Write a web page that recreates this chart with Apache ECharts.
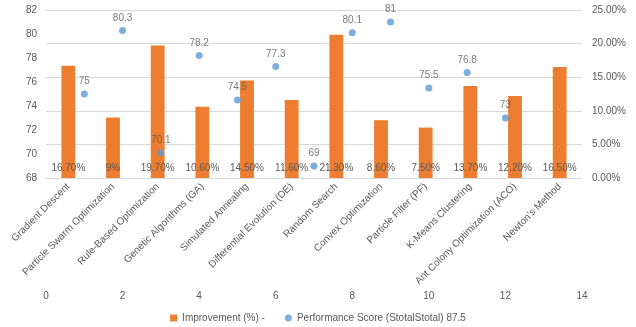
<!DOCTYPE html>
<html>
<head>
<meta charset="utf-8">
<script src="https://cdn.jsdelivr.net/npm/echarts@6/dist/echarts.min.js"></script>
<style>
  html, body { margin: 0; padding: 0; background: #fff; }
  #chart { width: 636px; height: 327px; }
</style>
</head>
<body>
<div id="chart"></div>
<script>
// Optimization methods and their results
const categories = [
  'Gradient Descent', 'Particle Swarm Optimization', 'Rule-Based Optimization',
  'Genetic Algorithms (GA)', 'Simulated Annealing', 'Differential Evolution (DE)',
  'Random Search', 'Convex Optimization', 'Particle Filter (PF)',
  'K-Means Clustering', 'Ant Colony Optimization (ACO)', 'Newton\u2019s Method'
];
// Improvement in percent (bars, right axis)
const improvement = [16.7, 9, 19.7, 10.6, 14.5, 11.6, 21.3, 8.6, 7.5, 13.7, 12.2, 16.5];
// Performance score (points, left axis), placed at x = 1..12
const scoreX = [1, 2, 3, 4, 5, 6, 7, 8, 9, 10, 11, 12];
const score = [75, 80.3, 70.1, 78.2, 74.5, 77.3, 69, 80.1, 81, 75.5, 76.8, 73];

const barName = 'Improvement (%) -';
const scoreName = 'Performance Score (StotalStotal) 87.5';

const FONT = '"Liberation Sans", Arial, sans-serif';
const FS = 10;
const TEXT = '#595959';

const pct = v => (Number.isInteger(v) ? v + '%' : v.toFixed(2) + '%');

const chart = echarts.init(document.getElementById('chart'), null, { renderer: 'canvas' });
chart.setOption({
  animation: false,
  textStyle: { fontFamily: FONT, color: TEXT },
  grid: { left: 46, right: 54, top: 10, bottom: 149, containLabel: false },
  legend: {
    bottom: 4,
    left: 'center',
    padding: 0,
    itemWidth: 7,
    itemHeight: 7,
    itemGap: 20,
    textStyle: { fontFamily: FONT, fontSize: FS, color: TEXT },
    data: [
      { name: barName, icon: 'rect' },
      { name: scoreName, icon: 'circle' }
    ]
  },
  xAxis: [
    {
      type: 'category',
      data: categories,
      position: 'bottom',
      axisLine: { show: false },
      axisTick: { show: false },
      axisLabel: {
        rotate: 45, margin: 7, interval: 0,
        fontFamily: FONT, fontSize: FS, color: TEXT
      }
    },
    {
      type: 'value',
      min: 0, max: 14, interval: 2,
      position: 'bottom',
      offset: 105,
      axisLine: { show: false },
      axisTick: { show: false },
      splitLine: { show: false },
      axisLabel: { fontFamily: FONT, fontSize: FS, color: TEXT }
    }
  ],
  yAxis: [
    {
      type: 'value',
      min: 68, max: 82, interval: 2,
      position: 'left',
      axisLine: { show: false },
      axisTick: { show: false },
      splitLine: { show: false },
      axisLabel: { margin: 9, fontFamily: FONT, fontSize: FS, color: TEXT }
    },
    {
      type: 'value',
      min: 0, max: 25, interval: 5,
      position: 'right',
      axisLine: { show: false },
      axisTick: { show: false },
      splitLine: { show: true, lineStyle: { color: '#d9d9d9', width: 1 } },
      axisLabel: {
        margin: 10, fontFamily: FONT, fontSize: FS, color: TEXT,
        formatter: v => v.toFixed(2) + '%'
      }
    }
  ],
  series: [
    {
      name: barName,
      type: 'bar',
      xAxisIndex: 0,
      yAxisIndex: 1,
      data: improvement,
      barWidth: '31%',
      itemStyle: { color: '#ed7d31' },
      label: {
        show: true,
        position: 'insideBottom',
        distance: 5,
        fontFamily: FONT,
        fontSize: FS,
        color: TEXT,
        formatter: p => pct(p.value)
      },
      z: 2
    },
    {
      name: scoreName,
      type: 'scatter',
      xAxisIndex: 1,
      yAxisIndex: 0,
      data: scoreX.map((x, i) => [x, score[i]]),
      symbol: 'circle',
      symbolSize: 7,
      itemStyle: { color: '#5b9bd5' },
      label: {
        show: true,
        position: 'top',
        distance: 4,
        fontFamily: FONT,
        fontSize: FS,
        color: TEXT,
        formatter: p => String(p.value[1])
      },
      z: 3
    }
  ]
});
</script>
</body>
</html>
